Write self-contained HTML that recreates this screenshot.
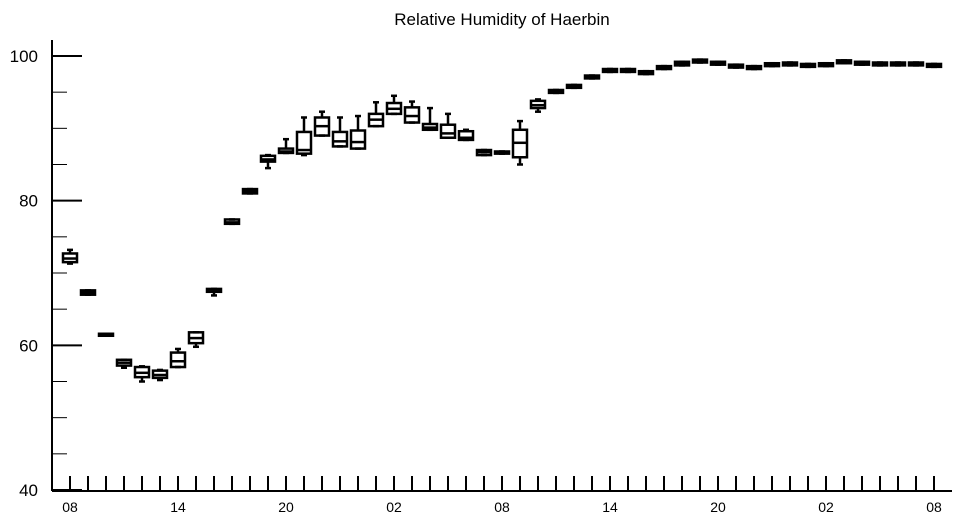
<!DOCTYPE html>
<html><head><meta charset="utf-8"><style>
html,body{margin:0;padding:0;background:#fff;}
svg{display:block;font-family:"Liberation Sans",Arial,sans-serif;}
</style></head><body>
<svg id="c" width="957" height="520">
<text x="502" y="25" font-size="17" text-anchor="middle">Relative Humidity of Haerbin</text>
<g id="axes"></g><g id="boxes"></g>
</svg>
<script>
const hourLabels=["08","14","20","02","08","14","20","02","08"];
const q1=[71.5,67,61.4,57.2,55.6,55.5,57,60.3,67.4,76.8,81,85.4,86.6,86.5,89,87.5,87.2,90.3,92,90.8,89.8,88.7,88.4,86.3,86.5,86,92.8,94.9,95.6,96.9,97.8,97.8,97.5,98.2,98.7,99.1,98.8,98.4,98.2,98.6,98.7,98.5,98.6,99.0,98.8,98.7,98.7,98.7,98.5];
const med=[72,67.3,61.5,57.6,56.2,55.9,57.8,61,67.7,77,81.3,85.7,86.8,87,90.3,88.2,88.1,91.2,92.7,91.7,90.1,89.3,88.7,86.7,86.7,88,93.2,95.1,95.8,97.1,98,98,97.7,98.4,98.9,99.3,99,98.6,98.4,98.8,98.9,98.7,98.8,99.2,99,98.9,98.9,98.9,98.7];
const q3=[72.7,67.6,61.6,58,57,56.5,59,61.8,67.8,77.4,81.6,86.2,87.2,89.5,91.5,89.5,89.7,92,93.5,92.9,90.6,90.5,89.6,87,86.8,89.8,93.8,95.3,96,97.3,98.2,98.2,97.9,98.6,99.2,99.5,99.2,98.8,98.6,99,99.1,98.9,99,99.4,99.2,99.1,99.1,99.1,98.9];
const lo=[71.3,67,61.4,56.9,55,55.2,57,59.8,66.9,76.8,81,84.5,86.6,86.3,89,87.5,87.2,90.3,92,90.8,89.8,88.7,88.4,86.3,86.5,85,92.3,94.9,95.6,96.9,97.8,97.8,97.5,98.2,98.7,99.1,98.8,98.4,98.2,98.6,98.7,98.5,98.6,99.0,98.8,98.7,98.7,98.7,98.5];
const hi=[73.2,67.6,61.6,58,57.1,56.6,59.5,61.8,67.8,77.4,81.6,86.3,88.5,91.5,92.3,91.5,91.7,93.6,94.5,93.7,92.8,92,89.8,87,86.8,91,94,95.3,96,97.3,98.2,98.2,97.9,98.6,99.2,99.5,99.2,98.8,98.6,99,99.1,98.9,99,99.4,99.2,99.1,99.1,99.1,98.9];
const yTicks=[40,60,80,100];
const NS="http://www.w3.org/2000/svg";
const X0=52,X1=952,Y0=491;
function xs(i){return 70+i*18;}
function ys(v){return 490-(v-40)*(434/60);}
function mk(t,a,p){const e=document.createElementNS(NS,t);for(const k in a)e.setAttribute(k,a[k]);p.appendChild(e);return e;}
const ax=document.getElementById('axes'),bx=document.getElementById('boxes');
const yl=mk('line',{x1:X0,y1:40,x2:X0,y2:Y0,stroke:'#000','stroke-width':2},ax);


const xl=mk('line',{x1:X0,y1:Y0,x2:X1,y2:Y0,stroke:'#000','stroke-width':2},ax);


for(let v=40;v<=100;v+=5){const maj=v%20===0;const l=mk('line',{x1:X0,y1:ys(v),x2:X0+(maj?30:15),y2:ys(v),stroke:'#000','stroke-width':maj?2:1},ax);

}
yTicks.forEach(v=>{const t=mk('text',{x:38,y:ys(v)+6,'font-size':17,'text-anchor':'end'},ax);t.textContent=v;

});
for(let i=0;i<q1.length;i++){const l=mk('line',{x1:xs(i),y1:Y0,x2:xs(i),y2:476,stroke:'#000','stroke-width':2},ax);

}
hourLabels.forEach((h,k)=>{const t=mk('text',{x:xs(k*6),y:512,'font-size':14,'text-anchor':'middle'},ax);t.textContent=h;

});
for(let i=0;i<q1.length;i++){
 const g=mk('g',{stroke:'#000','stroke-width':2.5,fill:'none'},bx);
 
 
 const x=xs(i),w=14;
 mk('line',{x1:x,y1:ys(hi[i]),x2:x,y2:ys(q3[i])},g);
 mk('line',{x1:x,y1:ys(q1[i]),x2:x,y2:ys(lo[i])},g);
 mk('line',{x1:x-3,y1:ys(hi[i]),x2:x+3,y2:ys(hi[i])},g);
 mk('line',{x1:x-3,y1:ys(lo[i]),x2:x+3,y2:ys(lo[i])},g);
 const h=Math.max(ys(q1[i])-ys(q3[i]),2);
 mk('rect',{x:x-w/2,y:ys(q3[i]),width:w,height:h},g);
 mk('line',{x1:x-w/2,y1:ys(med[i]),x2:x+w/2,y2:ys(med[i])},g);
}
</script>
</body></html>
